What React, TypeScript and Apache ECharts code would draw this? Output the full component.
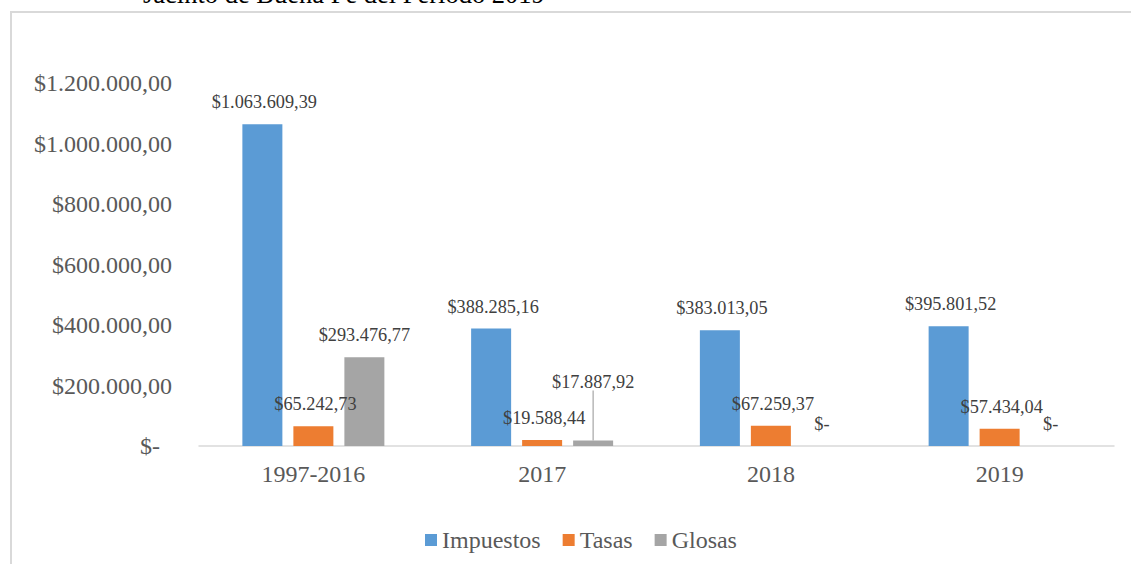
import React, { useEffect, useRef } from "react";
import * as echarts from "echarts";

const categories = ["1997-2016", "2017", "2018", "2019"];
const impuestos = [1063609.39, 388285.16, 383013.05, 395801.52];
const tasas = [65242.73, 19588.44, 67259.37, 57434.04];
const glosas = [293476.77, 17887.92, 0, 0];
const seriesNames = ["Impuestos", "Tasas", "Glosas"];
const titleText = "Jacinto de Buena Fe del Periodo 2019";

const FONT = "Liberation Serif";

function money(v: number): string {
  if (v === 0) return "$-";
  const fixed = v.toFixed(2);
  const [intPart, dec] = fixed.split(".");
  const withDots = intPart.replace(/\B(?=(\d{3})+(?!\d))/g, ".");
  return "$" + withDots + "," + dec;
}

export default function App() {
  const ref = useRef<HTMLDivElement>(null);
  useEffect(() => {
    if (!ref.current) return;
    const chart = echarts.init(ref.current, undefined, { renderer: "svg" });
    const labelCommon = {
      show: true,
      position: "top",
      distance: 13,
      offset: [2, 0],
      fontFamily: FONT,
      fontSize: 18.3,
      color: "#404040",
      formatter: (p: any) => money(p.value),
    };
    chart.setOption({
      animation: false,
      backgroundColor: "#ffffff",
      textStyle: { fontFamily: FONT },
      grid: { left: 199, right: 17, top: 83, bottom: 118, containLabel: false },
      legend: {
        left: 420,
        top: 523,
        itemWidth: 12,
        itemHeight: 12,
        itemGap: 22,
        icon: "rect",
        data: seriesNames,
        textStyle: { fontFamily: FONT, fontSize: 24, color: "#595959", lineHeight: 24 },
      },
      xAxis: {
        type: "category",
        data: categories,
        axisLine: { lineStyle: { color: "#d9d9d9", width: 1.5 } },
        axisTick: { show: false },
        axisLabel: { fontFamily: FONT, fontSize: 24, color: "#595959", margin: 16 },
      },
      yAxis: {
        type: "value",
        min: 0,
        max: 1200000,
        interval: 200000,
        splitLine: { show: false },
        axisLine: { show: false },
        axisTick: { show: false },
        axisLabel: {
          fontFamily: FONT,
          fontSize: 24,
          color: "#595959",
          margin: 27,
          formatter: (v: number) => (v === 0 ? "{z|$-}" : money(v)),
          rich: {
            z: { fontFamily: FONT, fontSize: 24, color: "#595959", padding: [0, 12, 0, 0] },
          },
        },
      },
      graphic: [
        {
          type: "rect",
          silent: true,
          shape: { x: 11, y: 12, width: 1200, height: 700 },
          style: { fill: "none", stroke: "#d9d9d9", lineWidth: 2 },
        },
        {
          type: "text",
          silent: true,
          x: 143,
          y: 7,
          style: {
            text: titleText,
            fontFamily: FONT,
            fontSize: 26.5,
            fill: "#000000",
            verticalAlign: "bottom",
          },
        },
      ],
      series: [
        {
          name: seriesNames[0],
          type: "bar",
          data: impuestos,
          barWidth: 40,
          barGap: "27.5%",
          itemStyle: { color: "#5B9BD5" },
          label: labelCommon,
        },
        {
          name: seriesNames[1],
          type: "bar",
          data: tasas,
          barWidth: 40,
          barGap: "27.5%",
          itemStyle: { color: "#ED7D31" },
          label: labelCommon,
        },
        {
          name: seriesNames[2],
          type: "bar",
          data: glosas.map((v, i) =>
            i === 1
              ? { value: v, labelLine: { show: true, lineStyle: { color: "#a5a5a5", width: 1.2 } } }
              : v
          ),
          barWidth: 40,
          barGap: "27.5%",
          itemStyle: { color: "#A5A5A5" },
          label: labelCommon,
          labelLine: { show: false },
          labelLayout: (p: any) => (p.dataIndex === 1 ? { dy: -37 } : {}),
        },
      ],
    });
    return () => chart.dispose();
  }, []);
  return (
    <div
      ref={ref}
      style={{ position: "fixed", left: 0, top: 0, width: 1131, height: 564 }}
    />
  );
}
